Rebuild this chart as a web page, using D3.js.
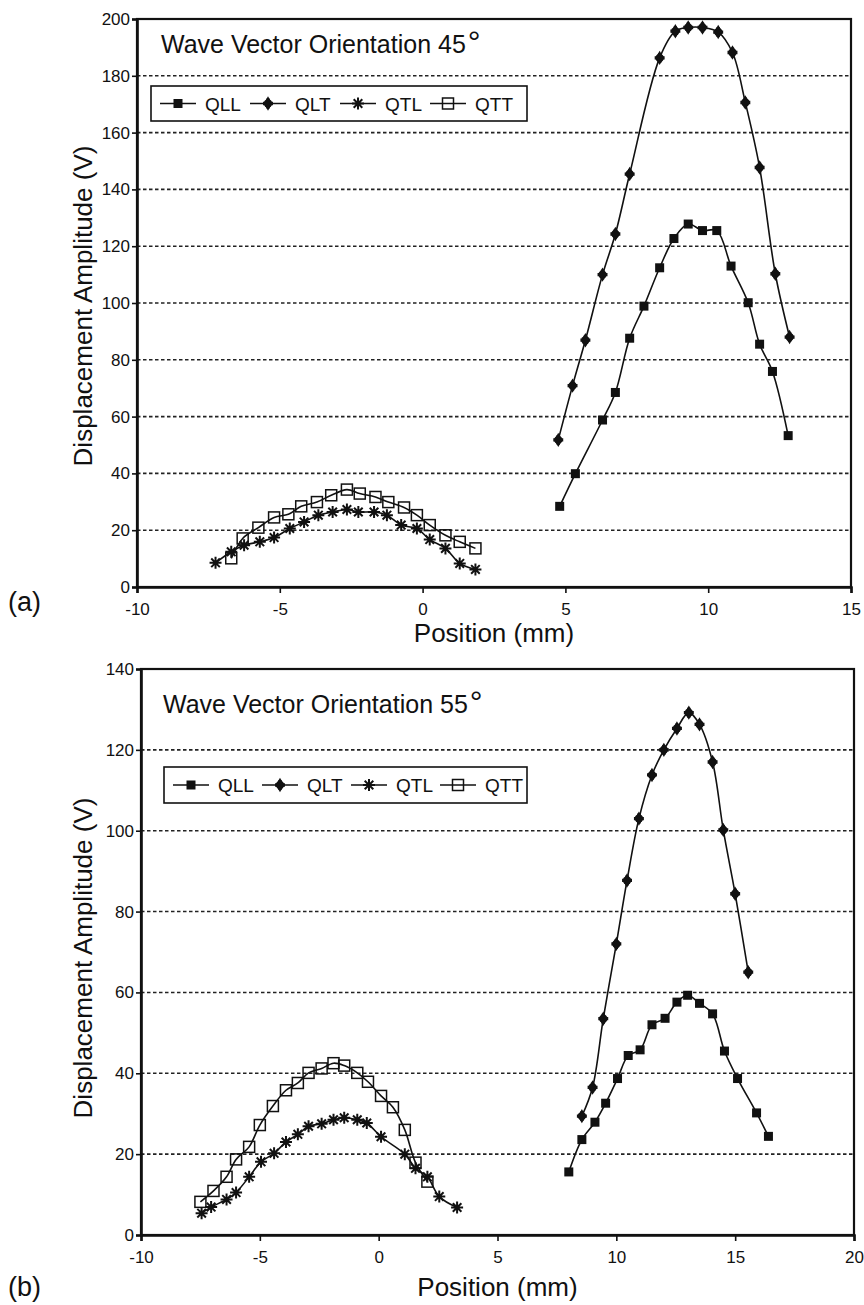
<!DOCTYPE html>
<html>
<head>
<meta charset="utf-8">
<script src="https://cdn.jsdelivr.net/npm/d3@7"></script>
<style>
body { margin: 0; background: #fff; }
text { font-family: "Liberation Sans", Arial, sans-serif; fill: #111; }
</style>
</head>
<body>
<svg id="fig" width="864" height="1305"></svg>
<script>
// panel (a): wave vector orientation 45 deg
var aXTicks = [-10, -5, 0, 5, 10, 15];
var aYTicks = [0, 20, 40, 60, 80, 100, 120, 140, 160, 180, 200];
var aQLLx = [4.8, 5.35, 6.3, 6.75, 7.25, 7.75, 8.3, 8.8, 9.3, 9.8, 10.3, 10.8, 11.4, 11.8, 12.25, 12.8];
var aQLLy = [28.4, 39.9, 58.8, 68.5, 87.6, 98.9, 112.4, 122.7, 127.8, 125.5, 125.5, 113, 100.1, 85.5, 75.9, 53.3];
var aQLTx = [4.75, 5.25, 5.7, 6.3, 6.75, 7.25, 8.3, 8.85, 9.3, 9.8, 10.35, 10.85, 11.3, 11.8, 12.35, 12.85];
var aQLTy = [51.8, 70.9, 86.9, 110, 124.3, 145.4, 186.3, 195.7, 197, 197, 195.4, 188.2, 170.6, 147.7, 110.3, 88];
var aQTLx = [-7.25, -6.7, -6.25, -5.7, -5.2, -4.65, -4.15, -3.65, -3.15, -2.65, -2.25, -1.7, -1.25, -0.75, -0.2, 0.25, 0.8, 1.3, 1.85];
var aQTLy = [8.5, 12.4, 14.7, 15.9, 17.4, 20.6, 22.9, 25.3, 26.4, 27.3, 26.4, 26.4, 25.3, 21.8, 20.6, 16.7, 13.6, 8.3, 6.2];
var aQTTx = [-6.7, -6.3, -5.75, -5.2, -4.7, -4.25, -3.7, -3.2, -2.65, -2.2, -1.65, -1.2, -0.65, -0.2, 0.25, 0.8, 1.3, 1.85];
var aQTTy = [10.1, 17.1, 20.9, 24.5, 25.6, 28.4, 29.9, 32.3, 34.3, 32.9, 31.7, 29.9, 28, 25.3, 21.8, 18.2, 15.9, 13.6];

// panel (b): wave vector orientation 55 deg
var bXTicks = [-10, -5, 0, 5, 10, 15, 20];
var bYTicks = [0, 20, 40, 60, 80, 100, 120, 140];
var bQLLx = [8.0, 8.55, 9.1, 9.55, 10.05, 10.5, 11.0, 11.5, 12.05, 12.55, 13.0, 13.5, 14.05, 14.55, 15.1, 15.9, 16.4];
var bQLLy = [15.6, 23.6, 27.9, 32.6, 38.7, 44.4, 45.8, 52.0, 53.6, 57.6, 59.3, 57.3, 54.7, 45.5, 38.7, 30.2, 24.4];
var bQLTx = [8.55, 9.0, 9.45, 10.0, 10.45, 10.95, 11.5, 12.0, 12.55, 13.05, 13.5, 14.05, 14.5, 15.0, 15.55];
var bQLTy = [29.4, 36.5, 53.5, 72.0, 87.7, 103.0, 113.8, 120.0, 125.3, 129.2, 126.3, 117.0, 100.2, 84.4, 65.0];
var bQTLx = [-7.45, -7.05, -6.4, -6.0, -5.45, -4.95, -4.4, -3.9, -3.4, -2.95, -2.4, -1.9, -1.45, -0.9, -0.5, 0.1, 1.1, 1.55, 2.05, 2.55, 3.3];
var bQTLy = [5.4, 6.9, 8.8, 10.5, 14.4, 18.1, 20.2, 23.0, 24.9, 26.9, 27.5, 28.5, 29.0, 28.5, 27.7, 24.3, 20.0, 16.5, 14.4, 9.5, 6.8];
var bQTTx = [-7.5, -6.95, -6.4, -6.0, -5.45, -5.0, -4.45, -3.9, -3.4, -2.95, -2.4, -1.9, -1.45, -0.9, -0.45, 0.1, 0.6, 1.1, 1.55, 2.05];
var bQTTy = [8.2, 10.9, 14.4, 18.7, 21.8, 27.2, 31.9, 35.8, 37.6, 40.1, 41.2, 42.5, 41.9, 40.1, 37.9, 34.4, 31.6, 26.0, 17.9, 13.2];

var seriesNames = ["QLL", "QLT", "QTL", "QTT"];

var svg = d3.select("#fig");

// draw one marker shape into a group
var drawMarker = function(g, type)
{
  if (type == "QLL") {
    g.append("rect").attr("x", -4.5).attr("y", -4.5).attr("width", 9).attr("height", 9)
      .attr("fill", "#111");
  } else if (type == "QLT") {
    g.append("circle").attr("r", 4.2).attr("fill", "#111");
    g.append("path").attr("d", d3.symbol(d3.symbolDiamond, 60)()).attr("fill", "#111");
    g.append("path").attr("d", d3.symbol(d3.symbolCross, 55)()).attr("fill", "#111");
  } else if (type == "QTL") {
    g.append("path")
      .attr("d", "M-6,0H6M0,-6V6M-4.3,-4.3L4.3,4.3M-4.3,4.3L4.3,-4.3")
      .attr("stroke", "#111").attr("stroke-width", 2).attr("fill", "none");
  } else {
    g.append("rect").attr("x", -5.5).attr("y", -5.5).attr("width", 11).attr("height", 11)
      .attr("fill", "none").attr("stroke", "#111").attr("stroke-width", 1.5);
  }
}

var drawChart = function(cfg)
{
  var x = d3.scaleLinear().domain(cfg.xDomain).range(cfg.xRange);
  var y = d3.scaleLinear().domain(cfg.yDomain).range(cfg.yRange);
  var g = svg.append("g");

  // dashed grid
  g.selectAll("line.grid")
    .data(cfg.yTicks.slice(1, -1))
    .enter()
    .append("line")
    .attr("class", "grid")
    .attr("x1", cfg.xRange[0]).attr("x2", cfg.xRange[1])
    .attr("y1", function(d){return y(d);})
    .attr("y2", function(d){return y(d);})
    .attr("stroke", "#222")
    .attr("stroke-width", 1.6)
    .attr("stroke-dasharray", "3.5,2.5");

  // frame
  g.append("rect")
    .attr("x", cfg.xRange[0]).attr("y", cfg.yRange[1])
    .attr("width", cfg.xRange[1] - cfg.xRange[0])
    .attr("height", cfg.yRange[0] - cfg.yRange[1])
    .attr("fill", "none").attr("stroke", "#111").attr("stroke-width", 2.2);

  // axes
  var xAxis = g.append("g")
    .attr("transform", "translate(0," + cfg.yRange[0] + ")")
    .call(d3.axisBottom(x).tickValues(cfg.xTicks).tickSize(6).tickPadding(6).tickFormat(function(d){return String(d);}));
  var yAxis = g.append("g")
    .attr("transform", "translate(" + cfg.xRange[0] + ",0)")
    .call(d3.axisLeft(y).tickValues(cfg.yTicks).tickSize(5).tickPadding(2).tickFormat(function(d){return String(d);}));
  [xAxis, yAxis].forEach(function(ax){
    ax.select(".domain").attr("stroke", "#111").attr("stroke-width", 2.6);
    ax.selectAll(".tick line").attr("stroke", "#111").attr("stroke-width", 1.6);
    ax.selectAll(".tick text")
      .attr("font-family", "Liberation Sans, Arial, sans-serif")
      .attr("font-size", "17px").attr("fill", "#111");
  });
  xAxis.selectAll(".tick text").attr("dy", "0.95em");

  // series lines and markers
  var line = d3.line()
    .x(function(d){return x(d[0]);})
    .y(function(d){return y(d[1]);})
    .curve(d3.curveCatmullRom.alpha(0.5));

  cfg.series.forEach(function(s){
    var pts = s.xs.map(function(v, i){return [v, s.ys[i]];});
    g.append("path")
      .datum(pts)
      .attr("d", line)
      .attr("fill", "none")
      .attr("stroke", "#111")
      .attr("stroke-width", 1.6);
    g.selectAll("g.m" + s.name)
      .data(pts)
      .enter()
      .append("g")
      .attr("class", "m" + s.name)
      .attr("transform", function(d){return "translate(" + x(d[0]) + "," + y(d[1]) + ")";})
      .each(function(){ drawMarker(d3.select(this), s.name); });
  });

  // title inside the plot
  var title = g.append("text")
    .attr("x", cfg.titleX).attr("y", cfg.titleY)
    .attr("font-size", "25px")
    .text(cfg.title);
  title.append("tspan").attr("font-size", "32px").attr("dx", 2).text("°");

  // legend
  var lg = g.append("g");
  lg.append("rect")
    .attr("x", cfg.legend[0]).attr("y", cfg.legend[1])
    .attr("width", cfg.legend[2]).attr("height", cfg.legend[3])
    .attr("fill", "#fff").attr("stroke", "#111").attr("stroke-width", 1.6);
  var cy = cfg.legend[1] + cfg.legend[3] / 2;
  var items = lg.selectAll("g.item")
    .data(seriesNames)
    .enter()
    .append("g")
    .attr("class", "item")
    .attr("transform", function(d, i){return "translate(" + (cfg.legend[4] + i * cfg.legend[5]) + "," + cy + ")";});
  items.append("line")
    .attr("x1", 0).attr("x2", 36).attr("y1", 0).attr("y2", 0)
    .attr("stroke", "#111").attr("stroke-width", 1.6);
  items.append("g")
    .attr("transform", "translate(18,0)")
    .each(function(d){ drawMarker(d3.select(this), d); });
  items.append("text")
    .attr("x", 45).attr("y", 7)
    .attr("font-size", "19px")
    .text(function(d){return d;});

  // axis titles
  g.append("text")
    .attr("x", (cfg.xRange[0] + cfg.xRange[1]) / 2)
    .attr("y", cfg.xLabelY)
    .attr("text-anchor", "middle")
    .attr("font-size", "26px")
    .text("Position (mm)");
  g.append("text")
    .attr("transform", "translate(92," + cfg.yLabelY + ") rotate(-90)")
    .attr("text-anchor", "middle")
    .attr("font-size", "26px")
    .text("Displacement Amplitude (V)");

  // panel letter
  g.append("text")
    .attr("x", 8).attr("y", cfg.panelY)
    .attr("font-family", "Liberation Serif, Times New Roman, serif")
    .attr("font-size", "27px")
    .text(cfg.panel);
}

drawChart({
  xDomain: [-10, 15], xRange: [137, 851],
  yDomain: [0, 200], yRange: [587, 19],
  xTicks: aXTicks, yTicks: aYTicks,
  series: [
    {name: "QLL", xs: aQLLx, ys: aQLLy},
    {name: "QLT", xs: aQLTx, ys: aQLTy},
    {name: "QTL", xs: aQTLx, ys: aQTLy},
    {name: "QTT", xs: aQTTx, ys: aQTTy}
  ],
  title: "Wave Vector Orientation 45", titleX: 161, titleY: 53,
  legend: [151, 86, 376, 35, 160, 90],
  xLabelY: 642, yLabelY: 306,
  panel: "(a)", panelY: 611
});

drawChart({
  xDomain: [-10, 20], xRange: [141, 854],
  yDomain: [0, 140], yRange: [1235, 669],
  xTicks: bXTicks, yTicks: bYTicks,
  series: [
    {name: "QLL", xs: bQLLx, ys: bQLLy},
    {name: "QLT", xs: bQLTx, ys: bQLTy},
    {name: "QTL", xs: bQTLx, ys: bQTLy},
    {name: "QTT", xs: bQTTx, ys: bQTTy}
  ],
  title: "Wave Vector Orientation 55", titleX: 163, titleY: 713,
  legend: [164, 767, 363, 36, 173, 89],
  xLabelY: 1296, yLabelY: 958,
  panel: "(b)", panelY: 1296
});
</script>
</body>
</html>
